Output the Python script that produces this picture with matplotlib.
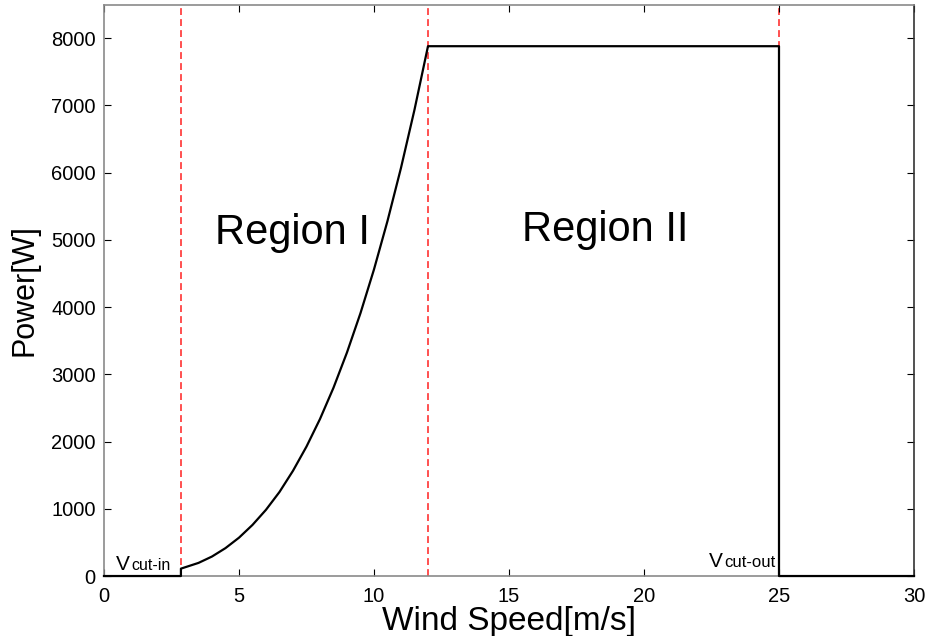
import numpy as np
import matplotlib
matplotlib.use("Agg")
import matplotlib.pyplot as plt

plt.rcParams['font.family'] = ['Liberation Sans', 'DejaVu Sans']

# wind turbine power curve
v_cut_in = 2.85
v_rated = 12
v_cut_out = 25
v_max = 30
p_rated = 7880

# region I: power rises from cut-in to rated speed
curve_speed = [2.85, 3.5, 4, 4.5, 5, 5.5, 6, 6.5, 7, 7.5, 8, 8.5, 9, 9.5,
               10, 10.5, 11, 11.5, 12]
curve_power = [110, 195, 290, 415, 570, 760, 985, 1250, 1565, 1925, 2335,
               2800, 3325, 3910, 4560, 5280, 6070, 6935, 7880]

speed = [0, v_cut_in] + curve_speed + [v_cut_out, v_cut_out, v_max]
power = [0, 0] + curve_power + [p_rated, 0, 0]

fig = plt.figure(figsize=(9.3, 6.36), dpi=100)
ax = fig.add_axes([0.1118, 0.0943, 0.871, 0.8986])

for v in [v_cut_in, v_rated, v_cut_out]:
    ax.axvline(v, color='#ff2020', lw=1.1, linestyle=(0, (4.5, 2.7)), zorder=1)

ax.plot(speed, power, color='black', lw=1.6, zorder=3, clip_on=False)

ax.set_xlim(0, 30)
ax.set_ylim(0, 8500)
ax.set_xticks(np.arange(0, 31, 5))
ax.set_yticks(np.arange(0, 8001, 1000))
ax.tick_params(direction='in', length=5, width=0.8, labelsize=14.5, pad=6,
               top=True, right=True, colors='black')
ax.tick_params(axis='x', pad=8)
for side in ['left', 'bottom', 'top']:
    ax.spines[side].set_color('#8a8a8a')
ax.spines['right'].set_color('#333333')
for s in ax.spines.values():
    s.set_linewidth(1.2)

ax.set_xlabel('Wind Speed[m/s]', fontsize=24, labelpad=0)
ax.set_ylabel('Power[W]', fontsize=22, labelpad=8)

ax.text(4.1, 5100, 'Region I', fontsize=30, va='center', ha='left')
ax.text(15.5, 5140, 'Region II', fontsize=30, va='center', ha='left')

# V with a smaller "cut-in"/"cut-out" tag on the same baseline
ax.text(0.45, 89, 'V', fontsize=15, va='baseline', ha='left')
ax.text(1.03, 89, 'cut-in', fontsize=11.5, va='baseline', ha='left')
ax.text(22.4, 140, 'V', fontsize=15, va='baseline', ha='left')
ax.text(22.96, 140, 'cut-out', fontsize=12, va='baseline', ha='left')

fig.savefig('out.png', dpi=100)
